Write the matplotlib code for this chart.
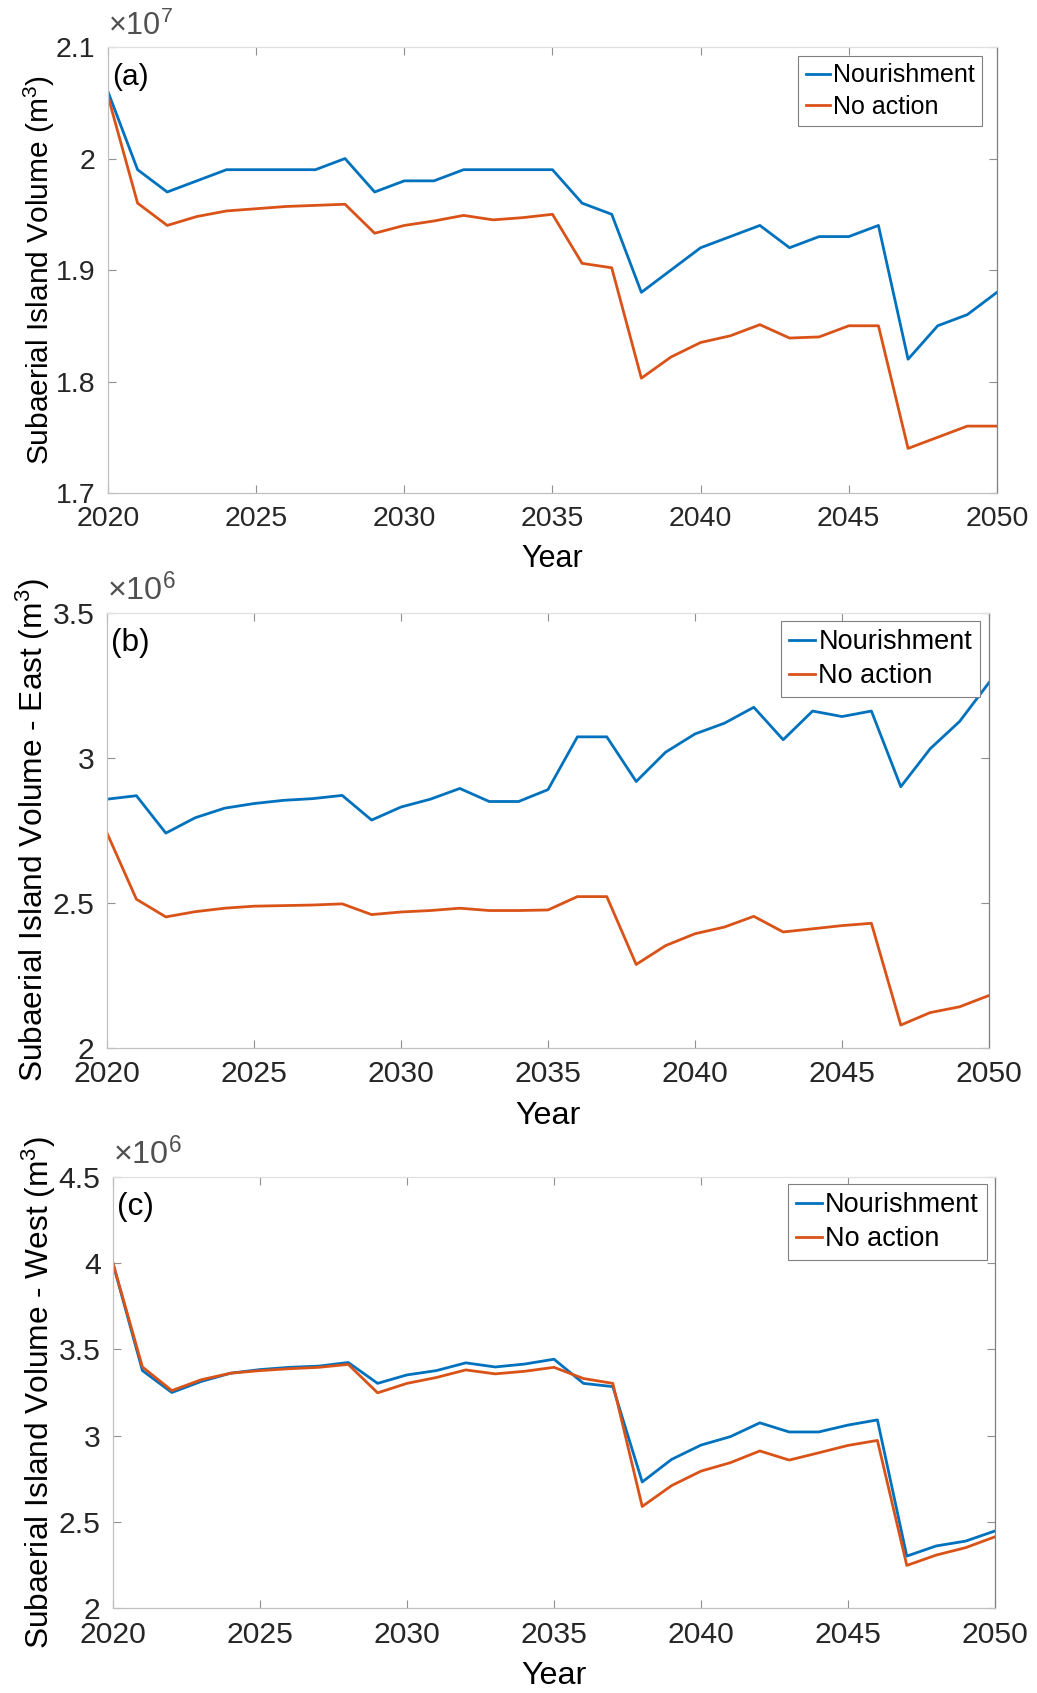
import matplotlib
matplotlib.use('Agg')
import matplotlib.pyplot as plt
from matplotlib.ticker import FuncFormatter

plt.rcParams['font.family'] = ['Liberation Sans', 'DejaVu Sans']
plt.rcParams['mathtext.fontset'] = 'custom'
plt.rcParams['mathtext.rm'] = 'Liberation Sans'
plt.rcParams['mathtext.it'] = 'Liberation Sans'

years = list(range(2020, 2051))

# (a) whole island, x 1e7 m3
vol_nour = [2.06, 1.99, 1.97, 1.98, 1.99, 1.99, 1.99, 1.99, 2.00, 1.97,
            1.98, 1.98, 1.99, 1.99, 1.99, 1.99, 1.96, 1.95, 1.88, 1.90,
            1.92, 1.93, 1.94, 1.92, 1.93, 1.93, 1.94, 1.82, 1.85, 1.86, 1.88]
vol_none = [2.056, 1.96, 1.94, 1.948, 1.953, 1.955, 1.957, 1.958, 1.959, 1.933,
            1.94, 1.944, 1.949, 1.945, 1.947, 1.95, 1.906, 1.902, 1.803, 1.822,
            1.835, 1.841, 1.851, 1.839, 1.84, 1.85, 1.85, 1.74, 1.75, 1.76, 1.76]

# (b) east, x 1e6 m3
east_nour = [2.858, 2.870, 2.741, 2.794, 2.827, 2.843, 2.854, 2.860, 2.871, 2.786,
             2.831, 2.858, 2.895, 2.850, 2.850, 2.891, 3.073, 3.073, 2.919, 3.020,
             3.083, 3.120, 3.175, 3.063, 3.162, 3.143, 3.162, 2.901, 3.032, 3.126, 3.260]
east_none = [2.741, 2.513, 2.452, 2.470, 2.482, 2.489, 2.491, 2.493, 2.497, 2.460,
             2.469, 2.474, 2.482, 2.474, 2.474, 2.476, 2.522, 2.522, 2.288, 2.353,
             2.394, 2.417, 2.454, 2.400, 2.411, 2.422, 2.430, 2.079, 2.122, 2.142, 2.181]

# (c) west, x 1e6 m3
west_nour = [3.996, 3.377, 3.25, 3.314, 3.362, 3.383, 3.396, 3.403, 3.424, 3.303,
             3.352, 3.377, 3.422, 3.398, 3.415, 3.443, 3.303, 3.284, 2.731, 2.862,
             2.945, 2.994, 3.074, 3.021, 3.021, 3.061, 3.091, 2.301, 2.360, 2.388, 2.447]
west_none = [4.0, 3.398, 3.261, 3.324, 3.362, 3.377, 3.388, 3.396, 3.413, 3.248,
             3.303, 3.337, 3.381, 3.358, 3.373, 3.396, 3.331, 3.303, 2.589, 2.710,
             2.794, 2.843, 2.911, 2.858, 2.900, 2.943, 2.972, 2.247, 2.307, 2.350, 2.413]

blue = '#0072BD'
orange = '#D95319'
txt = '#262626'

fig = plt.figure(figsize=(10.37, 16.93), dpi=100)

panels = [
    # rect, nour, none, ylim, yticks, exponent, ylabel, tag, legend anchor, legend size, label x, font scale
    ([0.1041, 0.7088, 0.8573, 0.2634], vol_nour, vol_none, (1.7, 2.1),
     [1.7, 1.8, 1.9, 2.0, 2.1], 7, 'Subaerial Island Volume (m$^3$)', '(a)',
     (0.983, 0.980), 18, -0.057, 1.0),
    ([0.1032, 0.3810, 0.8505, 0.2569], east_nour, east_none, (2.0, 3.5),
     [2.0, 2.5, 3.0, 3.5], 6, 'Subaerial Island Volume - East (m$^3$)', '(b)',
     (0.990, 0.982), 19.5, -0.062, 1.06),
    ([0.1090, 0.0502, 0.8505, 0.2546], west_nour, west_none, (2.0, 4.5),
     [2.0, 2.5, 3.0, 3.5, 4.0, 4.5], 6, 'Subaerial Island Volume - West (m$^3$)', '(c)',
     (0.991, 0.984), 19.5, -0.062, 1.06),
]

for rect, nour, none, ylim, yticks, expo, ylab, tag, anchor, lsize, lx, k in panels:
    ax = fig.add_axes(rect)
    ax.plot(years, nour, color=blue, lw=2.0, label='Nourishment')
    ax.plot(years, none, color=orange, lw=2.0, label='No action')
    ax.set_xlim(2020, 2050)
    ax.set_ylim(*ylim)
    ax.set_xticks(range(2020, 2051, 5))
    ax.set_yticks(yticks)
    ax.yaxis.set_major_formatter(FuncFormatter(lambda v, p: '%g' % round(v, 3)))
    ax.tick_params(direction='in', length=6, width=0.8, color='#909090',
                   labelsize=20.5 * k, labelcolor=txt, top=True, right=True, pad=9)
    for side in ['left', 'bottom']:
        ax.spines[side].set_color('#c0c0c0')
    ax.spines['top'].set_color('#e0e0e0')
    ax.spines['right'].set_color('#808080')
    for s in ax.spines.values():
        s.set_linewidth(0.9)
    ax.set_xlabel('Year', fontsize=22 * k, labelpad=9)
    ax.set_ylabel(ylab, fontsize=21.5 * k)
    ax.yaxis.set_label_coords(lx, 0.5)
    ax.text(0.005, 0.965, tag, transform=ax.transAxes, fontsize=21.5 * k, va='top', ha='left')
    ax.text(0.0, 1.012, r'$\times 10^{%d}$' % expo, transform=ax.transAxes,
            fontsize=22 * k, color='#505050', va='bottom', ha='left')
    leg = ax.legend(loc='upper right', bbox_to_anchor=anchor, borderaxespad=0,
                    fontsize=lsize, handlelength=0.95, handletextpad=0.12,
                    labelspacing=0.3, borderpad=0.3, fancybox=False, framealpha=1)
    leg.get_frame().set_edgecolor('#808080')
    leg.get_frame().set_linewidth(0.8)

fig.savefig('out.png', dpi=100)
